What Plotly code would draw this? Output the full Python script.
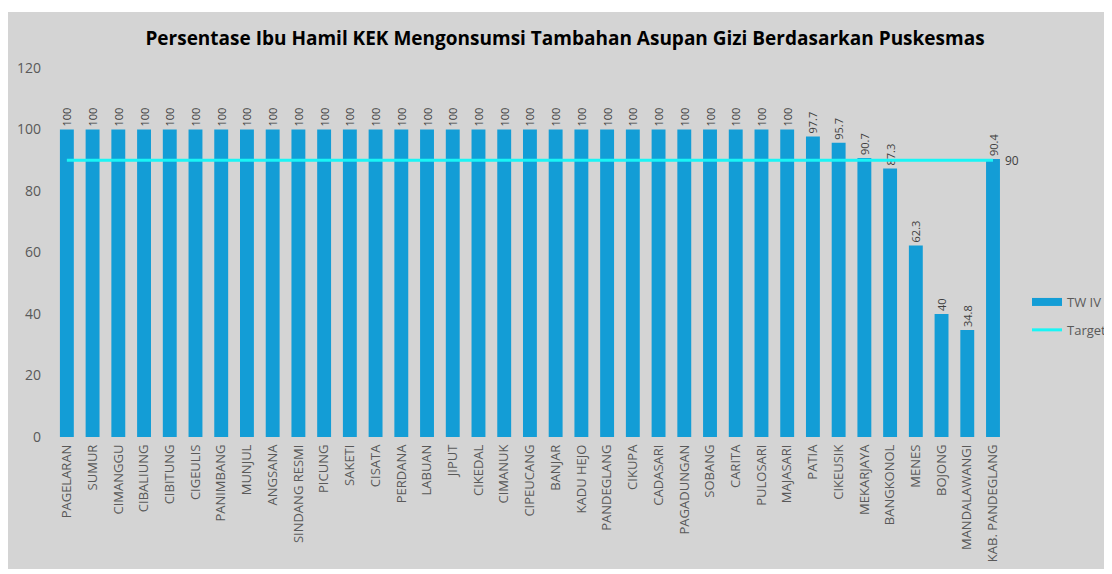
import plotly.graph_objects as go

categories = ["PAGELARAN", "SUMUR", "CIMANGGU", "CIBALIUNG", "CIBITUNG", "CIGEULIS",
              "PANIMBANG", "MUNJUL", "ANGSANA", "SINDANG RESMI", "PICUNG", "SAKETI",
              "CISATA", "PERDANA", "LABUAN", "JIPUT", "CIKEDAL", "CIMANUK", "CIPEUCANG",
              "BANJAR", "KADU HEJO", "PANDEGLANG", "CIKUPA", "CADASARI", "PAGADUNGAN",
              "SOBANG", "CARITA", "PULOSARI", "MAJASARI", "PATIA", "CIKEUSIK",
              "MEKARJAYA", "BANGKONOL", "MENES", "BOJONG", "MANDALAWANGI",
              "KAB. PANDEGLANG"]
tw_iv = [100] * 29 + [97.7, 95.7, 90.7, 87.3, 62.3, 40, 34.8, 90.4]
target = [90] * len(categories)
y_ticks = [0, 20, 40, 60, 80, 100, 120]

# page has an 8px body margin; figure sized to fit the window
W, H = 1104, 566
ml, mr, mt, mb = 46, 91, 60, 137
BG = "#d4d4d4"
BAR = "#139dd6"
FONT = "Open Sans"

fig = go.Figure()
fig.add_trace(go.Bar(
    x=categories, y=tw_iv, name="TW IV", showlegend=False,
    marker=dict(color=BAR, line=dict(width=0)),
    text=[f"{v:g}" for v in tw_iv], textposition="outside", textangle=-90,
    constraintext="none",
    textfont=dict(family=FONT, size=11, color="#404040"),
    cliponaxis=False,
))
# legend entry for the bars (wide rectangle swatch like the reference)
fig.add_trace(go.Scatter(
    x=[categories[0]], y=[None], name="TW IV", mode="lines", legendgroup="a",
    line=dict(color=BAR, width=8), hoverinfo="skip",
))
fig.add_trace(go.Scatter(
    x=categories, y=target, name="Target", mode="lines", legendgroup="b",
    line=dict(color="#19f5f5", width=3),
    cliponaxis=False,
))
fig.add_annotation(x=categories[-1], y=target[-1], text=f"{target[-1]:g}",
                   showarrow=False, xanchor="left", xshift=10,
                   font=dict(family=FONT, size=12, color="#404040"))

pw = W - ml - mr
ph = H - mt - mb
fig.add_shape(type="rect", xref="paper", yref="paper", layer="below",
              x0=(0 - ml) / pw, x1=(W + 2 - ml) / pw,
              y0=(H - mb - 561) / ph, y1=(H - mb - 4) / ph,
              fillcolor=BG, line=dict(width=0))

fig.update_layout(
    width=W, height=H,
    margin=dict(l=ml, r=mr, t=mt, b=mb, autoexpand=False),
    paper_bgcolor="white", plot_bgcolor=BG,
    bargap=0.46,
    font=dict(family=FONT, color="#595959"),
    title=dict(text="<b>Persentase Ibu Hamil KEK Mengonsumsi Tambahan Asupan Gizi Berdasarkan Puskesmas</b>",
               x=557 / W, xanchor="center", y=1 - 30 / H, yanchor="middle",
               font=dict(family=FONT, size=19, color="#000000")),
    showlegend=True,
    legend=dict(x=(1019 - ml) / pw, xanchor="left", y=(429 - 308) / ph, yanchor="middle",
                bgcolor="rgba(0,0,0,0)", font=dict(family=FONT, size=13, color="#595959"),
                itemwidth=30, tracegroupgap=8),
    xaxis=dict(tickangle=-90, showgrid=False, zeroline=False, showline=False,
               tickfont=dict(family=FONT, size=13, color="#595959"),
               ticks="", ticklabelstandoff=4, automargin=False),
    yaxis=dict(range=[0, 120], tickvals=y_ticks, showgrid=False, zeroline=False,
               showline=False, tickfont=dict(family=FONT, size=14, color="#595959"),
               ticklabelstandoff=12, automargin=False),
)

fig.write_html("out.html")
